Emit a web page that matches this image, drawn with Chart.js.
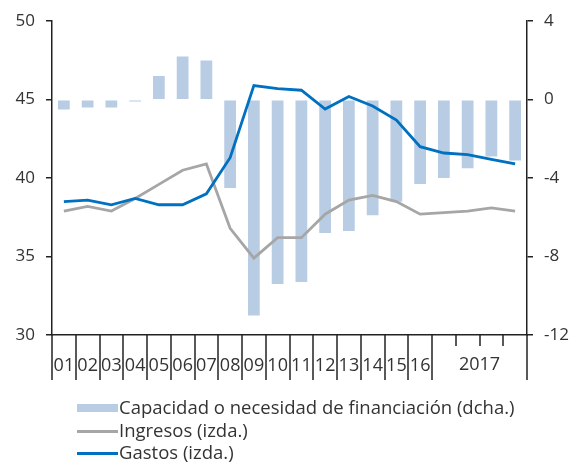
<!DOCTYPE html>
<html>
<head>
<meta charset="utf-8">
<script src="https://cdn.jsdelivr.net/npm/chart.js@4"></script>
<style>
  body { margin: 0; background: #fff; }
  #wrap { position: relative; width: 576px; height: 463px; }
  #legend {
    position: absolute; left: 77px; top: 396px;
    font-family: "Open Sans", sans-serif; font-size: 18.5px; color: #333;
    line-height: 22.5px;
  }
  .row { display: flex; align-items: flex-start; white-space: nowrap; }
  .sw { width: 41px; margin-right: 1px; flex: none; }
</style>
</head>
<body>
<div id="wrap">
  <canvas id="chart" width="576" height="463"></canvas>
  <div id="legend"></div>
</div>
<script>
// years 2001-2020
const years = ['01','02','03','04','05','06','07','08','09','10','11','12','13','14','15','16','17','18','19','20'];
const xTickLabels = ['01','02','03','04','05','06','07','08','09','10','11','12','13','14','15','16','','','',''];
const spanLabel = '2017';

const capacidad = [-0.5, -0.4, -0.4, -0.1, 1.2, 2.2, 2.0, -4.5, -11.0, -9.4, -9.3, -6.8, -6.7, -5.9, -5.2, -4.3, -4.0, -3.5, -2.9, -3.1];
const ingresos = [37.9, 38.2, 37.9, 38.7, 39.6, 40.5, 40.9, 36.8, 34.9, 36.2, 36.2, 37.7, 38.6, 38.9, 38.5, 37.7, 37.8, 37.9, 38.1, 37.9];
const gastos = [38.5, 38.6, 38.3, 38.7, 38.3, 38.3, 39.0, 41.3, 45.9, 45.7, 45.6, 44.4, 45.2, 44.6, 43.7, 42.0, 41.6, 41.5, 41.2, 40.9];

const labelNames = ['Capacidad o necesidad de financiación (dcha.)', 'Ingresos (izda.)', 'Gastos (izda.)'];
const colBar = '#b8cce4', colIng = '#a6a6a6', colGas = '#0070c0';
const axisCol = '#222', textCol = '#333';
const font = { family: '"Open Sans", sans-serif', size: 17 };
const xFont = { family: '"Open Sans", sans-serif', size: 18 };

// x axis tick marks + spanning label
const xTicks = {
  id: 'xTicks',
  afterDraw(chart) {
    const ctx = chart.ctx, x = chart.scales.x, bottom = chart.chartArea.bottom;
    ctx.save();
    ctx.strokeStyle = axisCol;
    ctx.lineWidth = 1.5;
    for (let i = 0; i <= years.length; i++) {
      const px = Math.round(x.getPixelForValue(i - 0.5));
      const longTick = i <= 16 || i === years.length;
      ctx.beginPath();
      ctx.moveTo(px, bottom);
      ctx.lineTo(px, bottom + (longTick ? 45 : 11));
      ctx.stroke();
    }
    ctx.fillStyle = textCol;
    ctx.font = '18px "Open Sans", sans-serif';
    ctx.textAlign = 'center';
    ctx.textBaseline = 'middle';
    ctx.fillText(spanLabel, x.getPixelForValue(17.5), bottom + 30);
    ctx.restore();
  }
};

new Chart(document.getElementById('chart'), {
  data: {
    labels: years,
    datasets: [
      { type: 'line', label: labelNames[2], data: gastos, yAxisID: 'yL', borderColor: colGas, borderWidth: 2.8, pointRadius: 0, tension: 0, order: 0 },
      { type: 'line', label: labelNames[1], data: ingresos, yAxisID: 'yL', borderColor: colIng, borderWidth: 2.8, pointRadius: 0, tension: 0, order: 1 },
      { type: 'bar', label: labelNames[0], data: capacidad, yAxisID: 'yR', backgroundColor: colBar, barPercentage: 0.55, categoryPercentage: 0.9, order: 2 }
    ]
  },
  options: {
    responsive: false,
    animation: false,
    layout: { padding: { top: 20, bottom: 83, left: 0, right: 0 } },
    plugins: { legend: { display: false }, tooltip: { enabled: false } },
    scales: {
      x: {
        grid: { display: false },
        border: { display: true, color: axisCol, width: 1.5 },
        ticks: { autoSkip: false, maxRotation: 0, color: textCol, font: xFont, padding: 12,
          callback: (v, i) => xTickLabels[i] },
        afterFit: s => { s.height = 45; }
      },
      yL: {
        position: 'left', min: 30, max: 50,
        ticks: { stepSize: 5, color: textCol, font: font, padding: 11 },
        grid: { drawOnChartArea: false, tickLength: 6, color: axisCol, lineWidth: 1.5 },
        border: { color: axisCol, width: 1.5 },
        afterFit: s => { s.width = 52; }
      },
      yR: {
        position: 'right', min: -12, max: 4,
        ticks: { stepSize: 4, color: textCol, font: font, padding: 11 },
        grid: { drawOnChartArea: false, tickLength: 6, color: axisCol, lineWidth: 1.5 },
        border: { color: axisCol, width: 1.5 },
        afterFit: s => { s.width = 49; }
      }
    }
  },
  plugins: [xTicks]
});

// legend rows
const legend = document.getElementById('legend');
const swatches = [
  '<span class="sw" style="height:8px;margin-top:8px;background:' + colBar + '"></span>',
  '<span class="sw" style="height:3px;margin-top:11px;background:' + colIng + '"></span>',
  '<span class="sw" style="height:3px;margin-top:11px;background:' + colGas + '"></span>'
];
legend.innerHTML = labelNames.map((n, i) => '<div class="row">' + swatches[i] + '<span>' + n + '</span></div>').join('');
</script>
</body>
</html>
